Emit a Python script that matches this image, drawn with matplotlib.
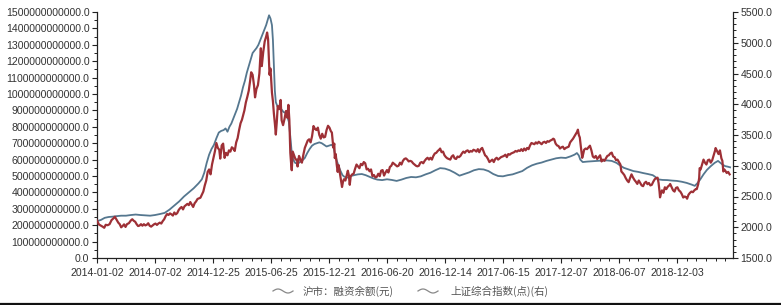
import numpy as np
import matplotlib
matplotlib.use("Agg")
import matplotlib.pyplot as plt
from matplotlib.ticker import MultipleLocator, FuncFormatter
from matplotlib.lines import Line2D

# ---------------- data ----------------
# trading-day index since 2014-01-02
tick_labels = ["2014-01-02", "2014-07-02", "2014-12-25", "2015-06-25", "2015-12-21",
               "2016-06-20", "2016-12-14", "2017-06-15", "2017-12-07", "2018-06-07",
               "2018-12-03"]
tick_days = [0, 120, 240, 360, 480, 600, 720, 840, 960, 1080, 1200]

# 上证综合指数 (right axis)
sse_days = [
    0, 4, 8, 12, 15, 18, 22, 26, 30, 34, 37, 40, 44, 47, 50, 53, 56, 59, 62, 66, 70, 73, 76, 79, 82, 85, 88, 91, 94, 97,
    100, 103, 106, 109, 112, 115, 118, 121, 124, 127, 130, 133, 136, 139, 142, 145, 148, 151, 154, 157, 160, 163, 166,
    169, 172, 175, 178, 181, 184, 187, 190, 193, 196, 199, 202, 205, 208, 211, 214, 217, 220, 223, 226, 229, 232, 235,
    238, 241, 244,
    247, 250, 253, 255, 258, 261, 264, 267, 270, 273, 276, 279, 282, 285, 288, 291, 294, 297, 300, 302, 305, 308, 311,
    314, 317, 319, 322, 325, 327, 330, 333, 336, 339, 341, 344, 347, 350, 352, 354, 357, 359, 362, 364, 366, 368, 370,
    372, 374, 377, 380, 382, 385, 388, 391, 394, 396, 398, 400, 402, 403, 405, 408, 411, 414, 415, 418, 421, 424, 427,
    430, 433, 436, 439, 442, 445, 448, 451, 454, 457, 460, 463, 466, 469, 472, 475, 478, 481, 484, 486,
    489, 491, 492, 494, 496, 498, 500, 502, 505, 507, 509, 511, 514, 517, 519, 521, 523, 525, 528, 531, 534, 537, 540,
    543, 546, 549, 552, 555, 558, 561, 564, 567, 570, 573, 576, 579, 582, 585, 588, 591, 594, 597, 600, 603, 606, 609,
    612, 615, 618, 621, 624, 627, 630, 633, 636, 639, 642, 645, 648, 651, 654, 657, 660, 663, 666, 669, 672, 675, 678,
    681, 684, 687, 690, 693, 696, 699, 702, 705, 708, 710, 713, 716, 719, 722, 725, 728, 731,
    734, 737, 740, 743, 746, 749, 752, 755, 758, 761, 764, 767, 770, 773, 776, 779, 782, 785, 788, 791, 794, 797, 800,
    803, 806, 809, 812, 815, 818, 821, 824, 827, 830, 833, 836, 839, 842, 845, 848, 851, 854, 857, 860, 863, 866, 869,
    872, 875, 878, 881, 884, 887, 890, 893, 896, 899, 902, 905, 908, 911, 914, 917, 920, 923, 926, 929, 932, 935, 938,
    941, 944, 946, 949, 952, 955, 958, 961, 964, 967, 970, 973, 976,
    979, 982, 985, 988, 991, 994, 995, 997, 999, 1001, 1003, 1004, 1006, 1008, 1011, 1014, 1017, 1020, 1023, 1026,
    1029, 1032, 1035, 1038, 1041, 1044, 1047, 1050, 1053, 1056, 1059, 1062, 1065, 1068, 1071, 1074, 1077, 1080, 1083,
    1085, 1088, 1091, 1094, 1097, 1100, 1103, 1106, 1109, 1112, 1115, 1118, 1121, 1124, 1127, 1130, 1133, 1136, 1139,
    1142, 1145, 1148, 1151, 1154, 1157, 1160, 1162, 1164, 1165, 1167, 1169, 1172, 1175, 1178, 1181, 1184, 1186, 1189,
    1192, 1195, 1198, 1201, 1204, 1207, 1210, 1213, 1216,
    1219, 1221, 1224, 1227, 1230, 1233, 1236, 1239, 1241, 1244, 1246, 1247, 1249, 1252, 1255, 1258, 1261, 1264, 1267,
    1270, 1273, 1276, 1279, 1280, 1283, 1286, 1289, 1292, 1294, 1296, 1298, 1300, 1303, 1306, 1309]
sse_values = [
    2110, 2045, 2027, 2008, 1991, 2040, 2033, 2050, 2115, 2145, 2170, 2130, 2075, 2050, 1999, 2020, 2047, 2005, 2050,
    2066, 2110, 2130, 2105, 2090, 2050, 2020, 2027, 2050, 2025, 2050,
    2030, 2040, 2065, 2024, 2010, 2030, 2048, 2060, 2038, 2060, 2075, 2060, 2100, 2130, 2180, 2215, 2200, 2225, 2210,
    2190, 2240, 2210, 2230, 2280, 2310, 2330, 2290, 2340, 2360, 2380, 2360, 2410, 2370, 2330, 2390, 2420, 2460, 2470,
    2480, 2530, 2580, 2680, 2760, 2900, 2940, 2860, 3020, 3130, 3235,
    3370, 3290, 3260, 3116, 3330, 3360, 3128, 3210, 3170, 3250, 3230, 3300, 3280, 3240, 3380, 3450, 3580, 3690, 3750,
    3810, 3900, 4030, 4120, 4220, 4390, 4520, 4480, 4300, 4112, 4250, 4310, 4500, 4910, 4620, 4850, 5020, 5100, 5166,
    5060, 4480, 4580, 4190, 4050, 3850, 3690, 3507, 3710, 3970, 3920, 4070, 3740, 3660, 3760, 3890, 3780, 3990, 3750,
    3210, 3000, 2927, 3230, 3166, 3100, 3100, 2988, 3160, 3100, 3050, 3180, 3290, 3350, 3410, 3430, 3380, 3480, 3646,
    3600, 3580, 3620, 3500, 3440, 3520, 3460, 3470, 3580, 3650, 3620, 3560, 3540,
    3296, 3360, 3125, 3190, 3020, 2900, 3010, 2910, 2750, 2655, 2740, 2780, 2760, 2860, 2920, 2850, 2690, 2830, 2860,
    2870, 2950, 3020, 2990, 2960, 3030, 3010, 3060, 3040, 2940, 2950, 2910, 2940, 2830, 2850, 2810, 2820, 2870, 2830,
    2920, 2930, 2840, 2890, 2930, 2890, 2980, 3000, 3050, 3030, 3010, 2990, 3000, 3050, 3020, 3080, 3110, 3120, 3100,
    3070, 3080, 3070, 3040, 3020, 3000, 2990, 3000, 3050, 3060, 3040, 3080, 3110, 3130, 3100, 3130, 3100, 3160, 3200,
    3210, 3240, 3260, 3280, 3220, 3230, 3170, 3140, 3120, 3110, 3100,
    3150, 3170, 3120, 3110, 3150, 3140, 3160, 3200, 3230, 3210, 3240, 3250, 3220, 3240, 3230, 3260, 3250, 3230, 3270,
    3220, 3270, 3290, 3230, 3170, 3150, 3110, 3060, 3080, 3100, 3060, 3110, 3130, 3100, 3120, 3140, 3150, 3160, 3180,
    3140, 3190, 3180, 3200, 3210, 3220, 3240, 3230, 3250, 3240, 3270, 3240, 3280, 3250, 3290, 3270, 3330, 3370, 3360,
    3350, 3380, 3360, 3390, 3370, 3350, 3380, 3390, 3370, 3400, 3390, 3410, 3420, 3440, 3430, 3360, 3330, 3320, 3280,
    3300, 3310, 3270, 3290, 3300, 3310,
    3380, 3410, 3440, 3480, 3520, 3560, 3587, 3500, 3460, 3320, 3200, 3129, 3190, 3260, 3280, 3270, 3300, 3326, 3250,
    3150, 3130, 3160, 3110, 3140, 3170, 3070, 3100, 3080, 3120, 3160, 3170, 3200, 3214, 3150, 3140, 3090, 3100, 3060,
    3020, 2907, 2880, 2850, 2800, 2760, 2733, 2800, 2860, 2810, 2770, 2740, 2705, 2760, 2720, 2680, 2668, 2720, 2740,
    2700, 2720, 2680, 2690, 2740, 2780, 2800, 2806, 2720, 2580, 2486, 2550, 2600, 2560, 2650, 2620, 2660, 2680, 2703,
    2650, 2600, 2580, 2640, 2650, 2600, 2580, 2540, 2483, 2500,
    2490, 2464, 2530, 2560, 2580, 2570, 2600, 2620, 2620, 2700, 2800, 2961, 2940, 3020, 3100, 3050, 3020, 3090, 3100,
    3050, 3090, 3170, 3250, 3288, 3240, 3190, 3250, 3120, 3080, 2906, 2940, 2920, 2882, 2900, 2860]

# 沪市：融资余额 (left axis, yuan, in 1e9)
margin_days = [
    0, 8, 16, 24, 32, 40, 50, 60, 70, 80, 90, 100, 110, 120, 130, 140, 150, 160, 170, 180, 190, 200, 210, 217, 222,
    227, 232, 237, 242, 247, 252, 257, 262, 266, 270, 274, 278, 282, 286, 290, 294, 298, 302, 306, 310, 314, 318, 322,
    326, 330, 334, 338, 342, 346, 350, 353, 356, 359, 362, 364, 366, 368, 370, 374, 378, 382, 386, 390, 394, 397, 400,
    403, 406, 410, 415, 420, 425, 430, 435, 440, 445, 450, 455, 460, 465, 470, 475, 480, 485, 489, 492, 496, 500, 504,
    508, 512, 518, 525, 532, 540, 548, 556, 564, 572, 580, 590, 600, 610, 620, 630, 640, 650, 660, 670, 680, 690, 700,
    710, 720, 730, 740, 750, 760, 770, 780, 790, 800, 810, 820, 830, 840, 850, 860, 870, 880, 890, 900, 910, 920, 930,
    940, 950, 960, 970, 980, 988, 993, 997, 1000, 1005, 1015, 1025, 1035, 1045, 1055, 1065, 1075, 1082, 1090, 1100,
    1110, 1120, 1130, 1140, 1150, 1155, 1160, 1170, 1180, 1190, 1200, 1210, 1220, 1230, 1237, 1242, 1248, 1255, 1262,
    1270, 1278, 1285, 1290, 1295, 1300, 1305, 1310]
margin_bn = [
    225, 232, 245, 250, 252, 255, 258, 258, 262, 265, 262, 260, 258, 262, 268, 275, 295, 320, 345, 375, 400, 425, 455,
    480, 520, 580, 630, 665, 690, 730, 765, 775, 780, 790, 770, 800, 820, 850, 880, 910, 950, 990, 1040, 1080, 1130,
    1170, 1210, 1250, 1265, 1280, 1300, 1330, 1360, 1390, 1420, 1450, 1480, 1460, 1420, 1330, 1180, 1020, 950, 920,
    910, 905, 890, 885, 860, 830, 740, 640, 600, 580, 575, 585, 595, 610, 640, 665, 685, 695, 700, 705, 700, 690, 680,
    685, 690, 680, 640, 595, 560, 530, 505, 495, 490, 500, 505, 510, 512, 505, 495, 485, 478, 475, 480, 476, 470, 478,
    488, 494, 492, 498, 510, 520, 535, 548, 545, 535, 520, 502, 512, 522, 535, 542, 540, 530, 512, 500, 498, 505, 510,
    520, 530, 550, 565, 575, 582, 592, 600, 608, 612, 610, 620, 630, 640, 625, 600, 585, 588, 590, 592, 594, 595, 592,
    580, 565, 550, 540, 530, 525, 518, 512, 505, 495, 480, 476, 475, 472, 470, 465, 458, 448, 440, 455, 478, 510, 537,
    560, 580, 592, 580, 568, 560, 557, 553]

legend_labels = ["沪市：融资余额(元)", "上证综合指数(点)(右)"]

# ---------------- figure ----------------
W, H = 781, 305
fig = plt.figure(figsize=(W / 100, H / 100), dpi=100)
fig.patch.set_facecolor("white")

x0, x1, ytop, ybot = 97, 733, 12, 258
ax1 = fig.add_axes([x0 / W, 1 - ybot / H, (x1 - x0) / W, (ybot - ytop) / H])
ax2 = ax1.twinx()

blue = "#55778f"
red = "#9e3036"
tick_color = "#333333"
font = "Liberation Sans"

ax1.plot(margin_days, np.array(margin_bn) * 1e9, color=blue, lw=1.3, solid_joinstyle="round")
ax2.plot(sse_days, sse_values, color=red, lw=1.6, solid_joinstyle="round")

ax1.set_xlim(0, 1316)
ax1.set_ylim(0, 1500e9)
ax2.set_ylim(1500, 5500)

ax1.set_xticks(tick_days)
ax1.set_xticklabels(tick_labels)
ax1.xaxis.set_minor_locator(MultipleLocator(20))
ax1.yaxis.set_major_locator(MultipleLocator(100e9))
ax1.yaxis.set_minor_locator(MultipleLocator(50e9))
ax1.yaxis.set_major_formatter(FuncFormatter(lambda v, p: f"{v:.1f}"))
ax2.yaxis.set_major_locator(MultipleLocator(500))
ax2.yaxis.set_minor_locator(MultipleLocator(100))
ax2.yaxis.set_major_formatter(FuncFormatter(lambda v, p: f"{v:.1f}"))

for ax in (ax1, ax2):
    ax.spines["top"].set_visible(False)
    for s in ax.spines.values():
        s.set_color("#222222")
        s.set_linewidth(0.9)
    ax.tick_params(which="major", length=3.5, width=0.8, color="#222222", labelsize=7.6,
                   labelcolor=tick_color, pad=2)
    ax.tick_params(which="minor", length=2, width=0.7, color="#222222")
    for lab in ax.get_xticklabels() + ax.get_yticklabels():
        lab.set_family(font)
ax1.spines["right"].set_visible(False)
ax2.spines["left"].set_visible(False)
ax2.spines["bottom"].set_visible(False)
ax1.tick_params(axis="x", pad=4)

# legend with wavy grey handles
def wave(xa, xb, yc):
    tt = np.linspace(0, 1, 30)
    xs = xa + (xb - xa) * tt
    ys = yc - 2.0 * np.sin(tt * 2 * np.pi)
    fig.add_artist(Line2D(xs / W, 1 - ys / H, color="#888888", lw=0.9,
                          transform=fig.transFigure))

wave(273, 293, 291)
fig.text(303 / W, 1 - 291 / H, legend_labels[0], fontsize=7.6, color="#555555",
         family=["Noto Sans CJK SC", "DejaVu Sans"], va="center", ha="left")
wave(418, 438, 291)
fig.text(450 / W, 1 - 291 / H, legend_labels[1], fontsize=7.6, color="#555555",
         family=["Noto Sans CJK SC", "DejaVu Sans"], va="center", ha="left")

# bottom border line
fig.add_artist(Line2D([0, 1], [1.2 / H, 1.2 / H], color="#111111", lw=1.6,
                      transform=fig.transFigure))

fig.savefig("out.png", dpi=100, facecolor="white")
